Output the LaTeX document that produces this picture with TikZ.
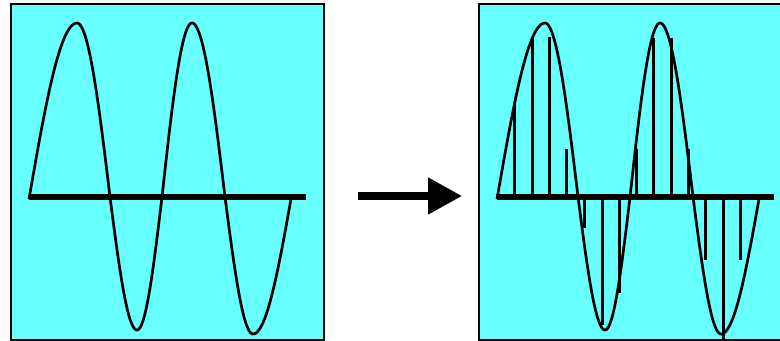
\documentclass[tikz,border=0pt]{standalone}
\usepackage{xcolor}
\usepackage{tikz}
\usetikzlibrary{arrows.meta}

\definecolor{screencyan}{RGB}{104,255,255}

% one trace of the signal, in pixel units of the panel
\newcommand{\signaltrace}{%
  \draw[wave] plot[domain=0:1, samples=30] ({29+48*\x},{199-176*sin(90*\x)})
    -- plot[domain=0:1, samples=30] ({77+33*\x},{23+174*(1-cos(90*\x))})
    -- plot[domain=0:1, samples=30] ({110+27*\x},{197+133*sin(90*\x)})
    -- plot[domain=0:1, samples=30] ({137+25*\x},{330-133*(1-cos(90*\x))})
    -- plot[domain=0:1, samples=30] ({162+30*\x},{197-174*sin(90*\x)})
    -- plot[domain=0:1, samples=30] ({192+33*\x},{23+174*(1-cos(90*\x))})
    -- plot[domain=0:1, samples=30] ({225+28*\x},{197+137*sin(90*\x)})
    -- plot[domain=0:1, samples=30] ({253+38*\x},{334-135*(1-cos(90*\x))});
}

\begin{document}
\begin{tikzpicture}[x=0.03cm, y=-0.03cm,
    panel/.style={draw=black, line width=1.6pt, fill=screencyan},
    wave/.style={line width=2.3pt},
    zeroline/.style={line width=4.5pt},
    sample/.style={line width=2.6pt},
    bigarrow/.style={line width=6.2pt, -{Triangle[length=29pt, width=30pt]}}]
    \useasboundingbox (0,0) rectangle (780,341);

    % analog signal
    \draw[panel] (11,4) rectangle (324,340);
    \draw[zeroline] (29,197) -- (306,197);
    \signaltrace

    % sampled signal
    \begin{scope}[xshift=14.04cm]
        \draw[panel] (11,4) rectangle (316,340);
        \foreach \sx/\sy in {46/102, 64/38, 81/37, 98/149, 116/228, 134/325, 151/293,
                             168/149, 185/38, 203/38, 220/149, 237/260, 255/340, 272/260}
            \draw[sample] (\sx,197) -- (\sx,\sy);
        \draw[zeroline] (29,197) -- (306,197);
        \signaltrace
    \end{scope}

    \coordinate (tail) at (358,196);
    \coordinate (head) at (462,196);
    \draw[bigarrow] (tail) -- (head);
\end{tikzpicture}
\end{document}
